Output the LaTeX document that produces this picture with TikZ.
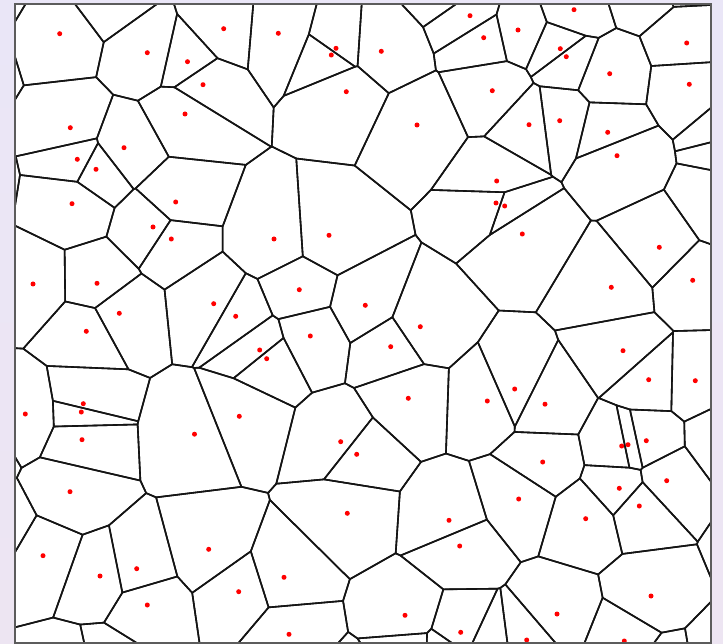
\documentclass[tikz,border=0pt]{standalone}
\definecolor{bgtop}{HTML}{EAE6F7}
\definecolor{bgbot}{HTML}{EDE5F2}
\definecolor{framecol}{HTML}{5C5C5C}
\newcount\vorN
\newcount\vAx \newcount\vAy \newcount\vFa
\newcount\vBx \newcount\vBy \newcount\vFb
\newcount\vFx \newcount\vFy \newcount\vFf
\newcount\vIx \newcount\vIy
\newcount\vSx \newcount\vSy
\newcount\vNx \newcount\vNy \newcount\vNn
\newcount\vorI \newcount\vorJ
\newif\ifvfirst
\def\vaddsite#1#2{\global\advance\vorN1
 \expandafter\xdef\csname vsx\the\vorN\endcsname{\the\numexpr\dimexpr#1pt\relax*16/65536\relax}%
 \expandafter\xdef\csname vsy\the\vorN\endcsname{\the\numexpr\dimexpr#2pt\relax*16/65536\relax}}
\def\vevalf#1#2#3{#1=\numexpr 2*((#2-\vSx)*\vNx+(#3-\vSy)*\vNy)-\vNn\relax}
\def\vaddB{\edef\vnewpoly{\unexpanded\expandafter{\vnewpoly}\noexpand\vtx{\the\vBx}{\the\vBy}}}
\def\vaddint{\vIx=\numexpr\vAx+(\vBx-\vAx)*\vFa/(\vFa-\vFb)\relax
  \vIy=\numexpr\vAy+(\vBy-\vAy)*\vFa/(\vFa-\vFb)\relax
  \edef\vnewpoly{\unexpanded\expandafter{\vnewpoly}\noexpand\vtx{\the\vIx}{\the\vIy}}}
\def\vprocessedge{%
  \ifnum\vFa>0
    \ifnum\vFb>0 \else
      \ifnum\vFb<0 \vaddint\fi
      \vaddB
    \fi
  \else
    \ifnum\vFb>0
      \ifnum\vFa<0 \vaddint\fi
    \else \vaddB\fi
  \fi}
\def\vclipvtx#1#2{\vBx=#1\relax\vBy=#2\relax\vevalf\vFb\vBx\vBy
  \ifvfirst\vfirstfalse\vFx=\vBx\vFy=\vBy\vFf=\vFb
  \else\vprocessedge\fi
  \vAx=\vBx\vAy=\vBy\vFa=\vFb}
\def\vclippoly{\ifx\vpoly\empty\else
  \let\vnewpoly\empty\vfirsttrue\let\vtx\vclipvtx\vpoly
  \vBx=\vFx\vBy=\vFy\vFb=\vFf\vprocessedge
  \let\vpoly\vnewpoly\fi}
\def\vclipwith{%
  \vNx=\numexpr\csname vsx\the\vorJ\endcsname-\vSx\relax
  \vNy=\numexpr\csname vsy\the\vorJ\endcsname-\vSy\relax
  \vNn=\numexpr\vNx*\vNx+\vNy*\vNy\relax
  \vclippoly}
\def\vloopj{\ifnum\vorJ<\vorN \advance\vorJ1
   \ifnum\vorJ=\vorI\else\vclipwith\fi
   \expandafter\vloopj\fi}
\def\vcomputecell{%
  \vSx=\csname vsx\the\vorI\endcsname\relax
  \vSy=\csname vsy\the\vorI\endcsname\relax
  \def\vpoly{\vtx{-1600}{-1600}\vtx{13280}{-1600}\vtx{13280}{12000}\vtx{-1600}{12000}}%
  \vorJ=0 \vloopj}
\def\vdrawvtx#1#2{\ifvfirst\vfirstfalse
  \pgfpathmoveto{\pgfqpoint{\dimexpr#1sp*4096\relax}{\dimexpr-#2sp*4096\relax}}%
  \else
  \pgfpathlineto{\pgfqpoint{\dimexpr#1sp*4096\relax}{\dimexpr-#2sp*4096\relax}}%
  \fi}
\def\vdrawcell{\ifx\vpoly\empty\else
  \vfirsttrue\let\vtx\vdrawvtx\vpoly\pgfpathclose\pgfusepath{stroke}\fi}
\def\vloopi{\ifnum\vorI<\vorN \advance\vorI1 \vcomputecell\vdrawcell\expandafter\vloopi\fi}

\def\innersites{59.7/33.7,147.3/52.7,187.5/61.7,185/114,70.3/127.7,124/147.7,77.3/159.3,96/169.3,72/203.7,175.7/202,
223.7/28.7,278.3/33.3,336/48.3,331.3/55,203/84.7,346.3/91.7,
470/15.7,483.7/37.7,518/30,381.3/51.3,492.3/90.7,417/125,529/124.7,496.7/181,496/203,504.7/206,
574/9.7,560.3/48.7,566.3/56.7,609.7/73.7,686.7/43,689.3/84.3,559.7/120.7,607.7/132.3,617/155.7,
153/227,171.3/239,33/284,97/283.3,119.3/313.3,86.3/331.3,83.3/403.7,81.3/412,25.3/414,
274/239,329/235.3,213.7/303.7,235.7/316.3,299.3/289.7,365.3/305.3,310.3/336,259.7/350,266.7/358.7,239.3/416.3,194.5/434.2,
522.3/234,420.3/326.7,390.7/346.7,408.3/398.3,487.3/401,514.7/389,545/404.2,
659.3/247.3,692.7/280.3,611.3/287.3,623/350.7,648.7/379.7,695.3/380.7,
82/439.7,70/491.7,43/555.7,100/576,136.7/568.7,147.3/605,
340.7/441.7,356.7/454.3,347.3/513.3,208.7/549.3,284/577.3,238.7/591.7,289/634.3,
542.7/462,518.7/499,449/520.3,459.7/546,405/615.3,460.7/632.3,526.7/640,
621.7/446,628/444.7,646.3/440.7,666.7/480.7,619.3/488.3,639.3/506,585.7/518.7,651/596,557/614,624.3/641}
\def\outersites{-16.7/-12.1,107.8/-2.5,450/-13,640/-11.4,683/-30.4,
730.2/133.3,732.1/141,719.6/205,723/439,766/548,718/661.6,664.9/670.7,
488/645,445/655,408/654,352/691,107.5/669.3,74/676.6,
-1.7/529.5,-27.7/445.5,-38.4/185.9,-35/63}
\foreach \x/\y in \innersites {\vaddsite{\x}{\y}}
\foreach \x/\y in \outersites {\vaddsite{\x}{\y}}

\begin{document}
\begin{tikzpicture}[x=1pt,y=1pt,
  sitedot/.style={fill=red},
  frameline/.style={draw=framecol,line width=2pt}]
\shade[top color=bgtop,bottom color=bgbot] (0,0) rectangle (723,-644);
\fill[white] (15,-4.5) rectangle (711,-643);
\begin{scope}
\clip (15,-4.5) rectangle (711,-643);
\pgfsetlinewidth{1.6pt}\pgfsetstrokecolor{black!92}\pgfsetroundjoin
\vorI=0 \vloopi
\end{scope}
\foreach \x/\y in \innersites {\fill[sitedot] (\x,-\y) circle[radius=2.5];}
\path[frameline] (15,-4.5) rectangle (711,-643);
\end{tikzpicture}
\end{document}
